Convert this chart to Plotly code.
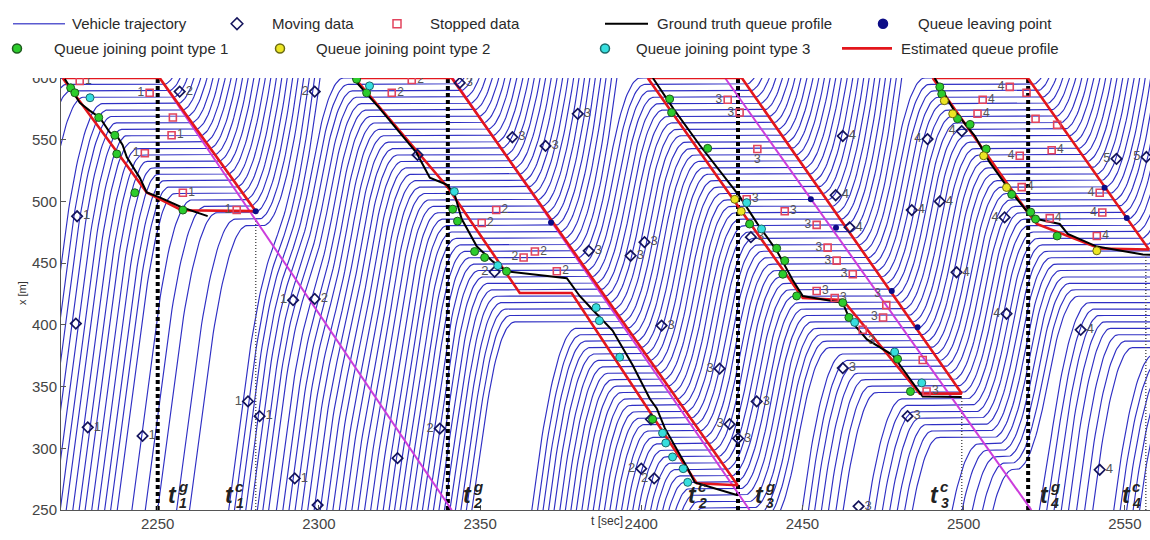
import numpy as np
import plotly.graph_objects as go

# ------------------------------------------------------------------
# Signal timing [s]
RED_START = [2207.0, 2297.0, 2388.7, 2477.2]
GREEN_START = [2250.5, 2341.0, 2431.0, 2520.0]
GREEN_MARKS = [2250, 2340, 2430, 2520]          # t^g (dotted black)
CLEAR_MARKS = [2280.4, 2499.4, 2556.5]          # t^c (thin dotted)
CLEAR_TOPS = [488, 342, 458]

# Free-flow passage time at x = 250 m of every arriving vehicle [s]
arr_cycle1 = [2196.3, 2198.1, 2199.8, 2201.4, 2203.2, 2204.9, 2206.5, 2208.2,
              2210.0, 2211.7, 2213.3, 2215.1, 2216.8, 2218.4, 2220.2, 2221.9,
              2223.7, 2225.3, 2227.1, 2231.8, 2236.0, 2239.8, 2246.5, 2250.5]
arr_green1 = [2272.0, 2273.8, 2275.5, 2277.3, 2279.0, 2280.9, 2282.6, 2284.4]
arr_cycle2a = [2286.8, 2288.8, 2290.7, 2292.6, 2294.6, 2296.5, 2298.5, 2300.4,
               2302.4, 2304.3, 2306.3, 2308.2, 2310.2, 2312.1, 2314.1, 2316.0,
               2318.0, 2319.9]
arr_cycle2b = [2321.7, 2323.4, 2325.1, 2326.8, 2328.5, 2330.3, 2332.0, 2333.7,
               2335.4, 2337.1, 2338.8, 2340.5, 2342.2, 2343.9, 2345.6, 2347.3]
arr_cycle2c = [2366.0, 2367.8, 2369.5, 2371.2, 2372.9, 2374.7, 2376.4, 2378.1,
               2379.8, 2381.5, 2383.3, 2385.0, 2386.7, 2388.4, 2390.1, 2391.9,
               2393.6, 2395.3, 2397.0, 2398.7, 2400.5, 2402.2, 2403.9, 2405.6,
               2407.3, 2409.1, 2410.8, 2412.5, 2414.2]
arr_cycle3 = [2430.5, 2432.8, 2435.0, 2449.0, 2451.3, 2453.5, 2455.8, 2458.0,
              2460.3, 2462.5, 2470.0, 2472.2, 2474.5, 2476.7, 2479.0, 2481.2,
              2483.5]
arr_cycle4 = [2495.5, 2498.5, 2501.5, 2504.5, 2507.5, 2522.5, 2525.0, 2527.5,
              2530.0, 2532.5, 2535.0, 2537.5, 2540.0, 2546.5, 2548.5, 2550.5,
              2552.5, 2554.5]

# Traffic stream parameters
STOP_LINE = 600.0      # m
V_FREE = 20.0          # m/s
ACC = 1.5              # m/s^2
DEC = 1.5              # m/s^2
JAM_SPACING = 5.2      # m
WAVE_LAG = 1.4         # s
X_SPAWN = 100.0        # m

# Estimated queue profiles (t [s], x [m])
est_q1_t = [2220.5, 2250.6, 2280.4, 2257.4, 2246.6, 2220.5]
est_q1_x = [600, 600, 492.1, 492.9, 507.3, 600]
est_q2_t = [2311.1, 2341.2, 2429.9, 2417.2, 2378.4, 2362.3, 2340.0, 2311.1]
est_q2_x = [600, 600, 270.0, 271.6, 425.8, 425.8, 511.3, 600]
est_q3_t = [2402.0, 2431.2, 2499.4, 2486.4, 2462.5, 2450.1, 2402.0]
est_q3_x = [600, 600, 344.3, 344.3, 420.2, 421.8, 600]
est_q4_t = [2490.4, 2519.9, 2557.5, 2542.2, 2522.7, 2519.6, 2490.4]
est_q4_x = [600, 600, 461.0, 461.8, 481.7, 492.1, 600]

# Ground truth queue profiles
gt_q1_t = [2221.2, 2225.8, 2228.9, 2232.0, 2235.1, 2237.6, 2239.1, 2240.4,
           2244.4, 2246.6, 2250.6, 2257.4, 2265.5]
gt_q1_x = [599.2, 580.0, 573.6, 568.0, 556.0, 552.0, 545.7, 536.0,
           519.3, 507.3, 503.3, 495.3, 488.1]
gt_q2_t = [2310.5, 2318.9, 2330.3, 2334.4, 2339.6, 2342.1, 2344.3, 2349.0,
           2353.9, 2358.3, 2376.9, 2380.9, 2384.9, 2391.1, 2397.3, 2402.6,
           2404.8, 2407.3, 2414.4, 2416.6, 2429.9]
gt_q2_x = [600.0, 575.2, 539.3, 519.3, 513.7, 505.7, 485.7, 463.4,
           451.4, 443.4, 437.8, 423.4, 412.2, 395.4, 367.5, 340.3,
           332.3, 316.3, 283.6, 272.4, 262.0]
gt_q3_t = [2403.6, 2410.0, 2418.1, 2424.0, 2430.5, 2436.0, 2442.0, 2447.0,
           2450.1, 2462.5, 2464.7, 2470.0, 2478.0, 2480.2, 2486.4, 2487.3,
           2499.4]
gt_q3_x = [600.0, 575.0, 545.7, 526.0, 504.1, 482.0, 460.2, 436.2,
           423.4, 417.8, 404.2, 388.2, 375.5, 367.5, 345.9, 341.9, 341.6]
gt_q4_t = [2491.0, 2497.0, 2503.5, 2508.0, 2514.0, 2519.6, 2522.7, 2525.8,
           2529.8, 2532.3, 2541.3, 2555.6, 2558.0]
gt_q4_x = [600.0, 574.0, 553.0, 532.0, 510.0, 492.1, 485.7, 484.1,
           481.7, 473.7, 463.4, 457.0, 456.8]

# Projected discharge waves
wave_t = [[2250.6, 2341.2], [2341.5, 2433.6], [2426.0, 2521.0]]
wave_x = [[600, 250], [600, 250], [600, 250]]

# Moving (probe) data
mv_t = [2225.0, 2224.6, 2228.3, 2245.3, 2278.0, 2281.6, 2292.5, 2256.8, 2298.7, 2292.0,
        2298.7, 2343.7, 2380.3, 2360.0, 2370.3, 2383.7, 2401.0, 2396.7, 2354.5, 2330.6,
        2434.0, 2406.3, 2424.3, 2435.8, 2427.4, 2430.0, 2337.5, 2324.4, 2400.0, 2404.0,
        2403.0, 2462.5, 2488.8, 2460.3, 2483.9, 2492.6, 2512.7, 2497.8, 2499.4, 2547.4,
        2556.7, 2464.6, 2513.3, 2536.3, 2542.2, 2462.5, 2482.6, 2467.4, 2299.6]
mv_x = [488, 401, 317, 310, 338, 326, 275.6, 589, 589, 420,
        421, 596, 571, 552, 545, 460, 467, 456, 443, 537.7,
        471, 399.4, 364.5, 338, 319.5, 308, 316, 292, 283.5, 275.6,
        323.5, 553, 550.5, 505, 493, 500, 487, 442.6, 557, 534.5,
        536, 479, 409, 396, 282.6, 365, 326, 253, 254]
mv_lab = ['1', '', '1', '1', '1', '1', '1', '2', '2', '1',
          '2', '3', '3', '3', '3', '3', '3', '3', '2', '',
          '3', '3', '3', '3', '3', '3', '2', '', '2', '2',
          '', '4', '4', '4', '4', '4', '4', '4', '4', '5',
          '5', '4', '4', '4', '4', '3', '3', '3', '']
mv_side = ['R', '', 'R', 'R', 'L', 'R', 'R', 'R', 'L', 'L',
           'R', 'R', 'R', 'R', 'R', 'R', 'R', 'R', 'L', '',
           'R', 'R', 'L', 'R', 'L', 'R', 'L', '', 'L', 'L',
           '', 'R', 'L', 'R', 'R', 'R', 'L', 'R', 'L', 'L',
           'L', 'R', 'L', 'R', 'R', 'R', 'R', 'R', '']

# Stopped (probe) data
st_t = [2225.8, 2247.5, 2254.7, 2254.3, 2246.0, 2257.8, 2274.5, 2328.8, 2322.6, 2355.0,
        2350.5, 2363.5, 2367.0, 2373.8, 2426.8, 2430.5, 2436.0, 2432.7, 2444.5, 2454.4,
        2457.8, 2460.6, 2465.6, 2454.4, 2460.0, 2476.0, 2475.0, 2468.7, 2487.3, 2488.5,
        2514.3, 2519.5, 2505.9, 2504.3, 2522.3, 2529.0, 2517.4, 2527.3, 2518.0, 2542.2,
        2543.0, 2526.7, 2541.3]
st_x = [597.6, 588, 568, 553.6, 539, 507, 493, 598.4, 588, 493,
        482.5, 454.6, 459.4, 443.4, 582.4, 572, 542.5, 501.7, 492, 481,
        462.6, 452, 441, 427.4, 421.8, 416, 406, 396, 371.5, 346,
        592.8, 588, 582.4, 571, 567, 562, 537, 541.5, 511.6, 507,
        491, 486.5, 472]
st_lab = ['1', '1', '', '1', '1', '1', '1', '2', '2', '2',
          '2', '2', '2', '2', '3', '3', '3', '3', '3', '3',
          '3', '3', '3', '3', '3', '3', '3', '3', '', '3',
          '4', '', '4', '4', '', '', '4', '4', '4', '4',
          '4', '4', '4']
st_side = ['R', 'L', '', 'R', 'L', 'R', 'L', 'R', 'R', 'R',
           'R', 'L', 'R', 'R', 'L', 'L', 'B', 'R', 'R', 'L',
           'L', 'L', 'L', 'R', 'R', 'TL', 'L', 'BR', '', 'R',
           'L', '', 'R', 'R', '', '', 'L', 'R', 'R', 'L',
           'L', 'R', 'R']

# Queue joining points
j1_t = [2223.0, 2224.3, 2231.7, 2236.7, 2237.3, 2242.9, 2257.8, 2311.7, 2314.8, 2341.5,
        2343.0, 2348.3, 2351.4, 2358.2, 2403.5, 2408.8, 2409.4, 2420.6, 2433.6, 2442.0,
        2444.5, 2443.9, 2448.2, 2462.5, 2464.4, 2479.5, 2483.5, 2492.6, 2493.2, 2498.1,
        2502.0, 2507.0, 2514.9, 2520.8, 2522.3, 2529.0]
j1_x = [592, 588, 568, 553.6, 538.5, 507, 493, 599, 588, 493.7,
        484, 459.4, 454.6, 443.4, 323.5, 583, 572, 543, 481.7, 462,
        452, 441, 423.4, 418, 406, 372.3, 346, 592.8, 587, 567,
        562.4, 542.5, 505.7, 491.3, 485.7, 472]
j2_t = [2429.0, 2431.0, 2494.0, 2496.6, 2506.2, 2513.3, 2541.3]
j2_x = [501.7, 492, 581.6, 571, 537, 511.3, 460]
j3_t = [2229.0, 2315.7, 2342.0, 2355.5, 2386.0, 2387.0, 2393.3, 2406.6, 2407.6, 2409.7,
        2413.0, 2414.4, 2432.7, 2437.3, 2466.2, 2478.6, 2487.0]
j3_x = [584, 593.6, 508, 448, 414, 403.4, 373.8, 312.3, 304.3, 293,
        283.5, 272.4, 499, 477.7, 402, 378, 353]

# Queue leaving points
lv_t = [2280.4, 2372.0, 2452.6, 2460.4, 2477.7, 2485.7, 2543.7, 2550.6]
lv_x = [492, 483, 501.7, 478.6, 427.4, 398, 511, 486.5]

# Time labels: (sup, sub, t at label)
t_labels = [("g", "1", 2254.7), ("c", "1", 2272.3), ("g", "2", 2346.2), ("c", "2", 2416.0),
            ("g", "3", 2436.7), ("c", "3", 2491.0), ("g", "4", 2525.1), ("c", "4", 2550.6)]


# ------------------------------------------------------------------
def simulate(arrivals, reds, greens, t0=2170.0, t1=2566.0, dt=0.1):
    """Single-lane stream behind a signal: Newell car following with
    bounded acceleration and comfortable braking."""
    n = int(round((t1 - t0) / dt))
    lag = int(round(WAVE_LAG / dt))
    arr = np.sort(np.asarray(arrivals, float))
    N = arr.size
    t_spawn = arr - (250.0 - X_SPAWN) / V_FREE
    X = np.full((n + 1, N), np.nan)
    SP = np.zeros((n + 1, N))
    x = np.full(N, np.nan)
    v = np.full(N, V_FREE)
    stopping = np.zeros(N, bool)
    with np.errstate(invalid="ignore"):
        for k in range(n):
            t = t0 + k * dt
            C = np.full(N, np.inf)
            vC = np.full(N, V_FREE)
            kl = k + 1 - lag
            if kl >= 0:
                lead = X[kl, :-1] - JAM_SPACING
                ok = ~np.isnan(lead)
                C[1:][ok] = lead[ok]
                vC[1:][ok] = SP[kl, :-1][ok]
            new = np.isnan(x) & (t >= t_spawn)
            if new.any():
                x[new] = np.minimum(X_SPAWN, C[new])
                v[new] = V_FREE
            act = ~np.isnan(x)
            red = any(r <= t < g for r, g in zip(reds, greens))
            if red:
                stopping |= act & (x < STOP_LINE) & ((STOP_LINE - x) >= v * v / (2 * DEC))
            else:
                stopping[:] = False
            gap_l = np.where(np.isfinite(C), C - x, 1e9)
            vlim = np.sqrt(vC ** 2 + 2 * DEC * np.maximum(gap_l, 0))
            gap_s = np.where(stopping, STOP_LINE - x, 1e9)
            vlim = np.minimum(vlim, np.sqrt(2 * DEC * np.maximum(gap_s, 0)))
            vn = np.maximum(np.minimum(np.minimum(v + ACC * dt, V_FREE), vlim), 0)
            xn = np.minimum(x + vn * dt, C)
            xn = np.where(stopping, np.minimum(xn, STOP_LINE), xn)
            xn = np.maximum(xn, x)
            vn = (xn - x) / dt
            x = np.where(act, xn, x)
            v = np.where(act, vn, v)
            X[k + 1] = x
            SP[k + 1] = np.where(act, v, 0)
    tt = t0 + np.arange(n + 1) * dt
    return tt, X


arrivals = (arr_cycle1 + arr_green1 + arr_cycle2a + arr_cycle2b + arr_cycle2c
            + arr_cycle3 + arr_cycle4)
tt, XX = simulate(arrivals, RED_START, GREEN_START)

traj_t, traj_x = [], []
step = 4
ts = tt[::step]
for i in range(XX.shape[1]):
    xs = XX[::step, i]
    with np.errstate(invalid="ignore"):
        m = (~np.isnan(xs)) & (xs >= 240) & (xs <= 612) & (ts >= 2214) & (ts <= 2563)
    idx = np.where(m)[0]
    if idx.size < 2:
        continue
    a = max(idx[0] - 1, 0)
    b = min(idx[-1] + 1, len(xs) - 1)
    seg_t = ts[a:b + 1]
    seg_x = xs[a:b + 1]
    good = ~np.isnan(seg_x)
    traj_t += list(np.round(seg_t[good], 2)) + [None]
    traj_x += list(np.round(seg_x[good], 2)) + [None]

# ------------------------------------------------------------------
FONT = "Liberation Sans, Arial, sans-serif"
BLUE = "#2f2fc4"
RED = "#e3161c"
MAGENTA = "#cc3ddc"
NAVY = "#14145c"
SQUARE_RED = "#e2445e"
GREEN = "#2ccc2c"
YELLOW = "#ece524"
CYAN = "#36dede"
LABEL_GRAY = "#555555"

side_pos = {"R": "middle right", "L": "middle left", "B": "bottom center",
            "TL": "top left", "BL": "bottom left", "BR": "bottom right", "": "middle right"}

fig = go.Figure()

fig.add_trace(go.Scatter(x=traj_t, y=traj_x, mode="lines",
                         line=dict(color=BLUE, width=1.15), hoverinfo="skip"))

for tg in GREEN_MARKS:
    fig.add_trace(go.Scatter(x=[tg, tg], y=[250, 600], mode="lines",
                             line=dict(color="black", width=4, dash="4px,3px")))
for tc, top in zip(CLEAR_MARKS, CLEAR_TOPS):
    fig.add_trace(go.Scatter(x=[tc, tc], y=[250, top], mode="lines",
                             line=dict(color="#555555", width=1.5, dash="1px,2px")))

for wt, wx in zip(wave_t, wave_x):
    fig.add_trace(go.Scatter(x=wt, y=wx, mode="lines", line=dict(color=MAGENTA, width=2)))

for et, ex in [(est_q1_t, est_q1_x), (est_q2_t, est_q2_x), (est_q3_t, est_q3_x), (est_q4_t, est_q4_x)]:
    fig.add_trace(go.Scatter(x=et, y=ex, mode="lines", line=dict(color=RED, width=2.6)))

for gt, gx in [(gt_q1_t, gt_q1_x), (gt_q2_t, gt_q2_x), (gt_q3_t, gt_q3_x), (gt_q4_t, gt_q4_x)]:
    fig.add_trace(go.Scatter(x=gt, y=gx, mode="lines", line=dict(color="black", width=2)))

fig.add_trace(go.Scatter(x=st_t, y=st_x, mode="markers+text", text=st_lab,
                         textposition=[side_pos[s] for s in st_side],
                         textfont=dict(family=FONT, size=12, color=LABEL_GRAY),
                         marker=dict(symbol="square-open", size=7, color=SQUARE_RED,
                                     line=dict(width=1.6, color=SQUARE_RED))))
fig.add_trace(go.Scatter(x=mv_t, y=mv_x, mode="markers+text", text=mv_lab,
                         textposition=[side_pos[s] for s in mv_side],
                         textfont=dict(family=FONT, size=13, color=LABEL_GRAY),
                         marker=dict(symbol="diamond-open", size=8, color=NAVY,
                                     line=dict(width=1.7, color=NAVY))))
fig.add_trace(go.Scatter(x=j1_t, y=j1_x, mode="markers",
                         marker=dict(symbol="circle", size=8, color=GREEN,
                                     line=dict(width=1, color="#1d5a1d"))))
fig.add_trace(go.Scatter(x=j2_t, y=j2_x, mode="markers",
                         marker=dict(symbol="circle", size=8, color=YELLOW,
                                     line=dict(width=1, color="#6a6a10"))))
fig.add_trace(go.Scatter(x=j3_t, y=j3_x, mode="markers",
                         marker=dict(symbol="circle", size=8, color=CYAN,
                                     line=dict(width=1, color="#1a6a6a"))))
fig.add_trace(go.Scatter(x=lv_t, y=lv_x, mode="markers",
                         marker=dict(symbol="circle", size=6, color="#0c0c86")))

annotations = []
for sup, sub, tpos in t_labels:
    annotations.append(dict(x=tpos, y=262, xref="x", yref="y", showarrow=False,
                            text="<b><i>t</i></b>", font=dict(family=FONT, size=23, color="#222")))
    annotations.append(dict(x=tpos, y=262, xref="x", yref="y", showarrow=False, xshift=10, yshift=9,
                            text="<b><i>%s</i></b>" % sup, font=dict(family=FONT, size=15, color="#222")))
    annotations.append(dict(x=tpos, y=262, xref="x", yref="y", showarrow=False, xshift=10, yshift=-8,
                            text="<b><i>%s</i></b>" % sub, font=dict(family=FONT, size=14, color="#222")))

annotations.append(dict(x=607 / 1150, y=-20 / 510, xref="paper", yref="paper", showarrow=False,
                        text="t [sec]", font=dict(family=FONT, size=12, color="#333")))
annotations.append(dict(x=14 / 1150, y=220 / 510, xref="paper", yref="paper", showarrow=False,
                        text="x [m]", textangle=-90, font=dict(family=FONT, size=11, color="#333")))

# Legend, drawn in its own pixel-scaled axes above the plot
leg_font = dict(family=FONT, size=15, color="#2a2a2a")
leg_lines = [([13, 65], 17, "#5a5ad0", 1.5), ([605, 648], 17, "black", 2.2), ([842, 892], 42, RED, 2.6)]
for xs_, y_, c_, w_ in leg_lines:
    fig.add_trace(go.Scatter(x=xs_, y=[y_, y_], mode="lines", xaxis="x2", yaxis="y2",
                             line=dict(color=c_, width=w_)))
leg_marks = [(237, 17, "diamond-open", 9, NAVY, NAVY),
             (397, 17, "square-open", 8, SQUARE_RED, SQUARE_RED),
             (883, 17, "circle", 9, "#0c0c86", "#0c0c86"),
             (17, 42, "circle", 9, GREEN, "#1d5a1d"),
             (280, 42, "circle", 9, YELLOW, "#6a6a10"),
             (605, 42, "circle", 9, CYAN, "#1a6a6a")]
for mx, my, sym, sz, col, edge in leg_marks:
    fig.add_trace(go.Scatter(x=[mx], y=[my], mode="markers", xaxis="x2", yaxis="y2",
                             marker=dict(symbol=sym, size=sz, color=col, line=dict(width=1.5, color=edge))))
leg_texts = [(70, 17, "Vehicle trajectory"), (270, 17, "Moving data"), (428, 17, "Stopped data"),
             (655, 17, "Ground truth queue profile"), (916, 17, "Queue leaving point"),
             (52, 42, "Queue joining point type 1"), (314, 42, "Queue joining point type 2"),
             (634, 42, "Queue joining point type 3"), (899, 42, "Estimated queue profile")]
for tx, ty, txt in leg_texts:
    annotations.append(dict(x=tx, y=ty, xref="x2", yref="y2", xanchor="left", yanchor="middle",
                            showarrow=False, text=txt, font=leg_font))

fig.update_layout(
    width=1150, height=540,
    margin=dict(l=0, r=0, t=0, b=30),
    paper_bgcolor="white", plot_bgcolor="white",
    showlegend=False,
    annotations=annotations,
    xaxis=dict(domain=[61 / 1150, 1], range=[2220, 2557.8], anchor="y",
               tickvals=[2250, 2300, 2350, 2400, 2450, 2500, 2550],
               ticks="inside", ticklen=5, tickcolor="#555", showline=True, linecolor="#555",
               linewidth=1, showgrid=False, zeroline=False,
               tickfont=dict(family=FONT, size=15, color="#444")),
    yaxis=dict(domain=[0, (510 - 70.1) / 510], range=[250, 601.5], anchor="x",
               tickvals=[250, 300, 350, 400, 450, 500, 550, 600],
               ticks="inside", ticklen=5, tickcolor="#555", showline=True, linecolor="#555",
               linewidth=1, showgrid=False, zeroline=False,
               tickfont=dict(family=FONT, size=15, color="#444")),
    xaxis2=dict(domain=[0, 1], range=[0, 1150], anchor="y2", visible=False, fixedrange=True),
    yaxis2=dict(domain=[438 / 510, 1], range=[72, 0], anchor="x2", visible=False, fixedrange=True),
)

fig.write_html("out.html")
